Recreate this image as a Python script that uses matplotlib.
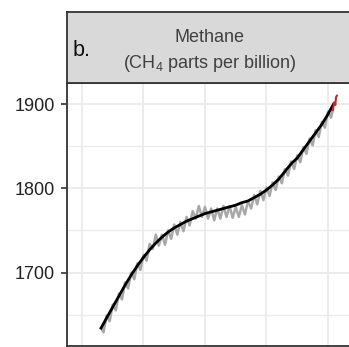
import matplotlib
matplotlib.use("Agg")
import matplotlib.pyplot as plt

plt.rcParams["font.family"] = ["Liberation Sans", "DejaVu Sans"]
plt.rcParams["mathtext.fontset"] = "custom"
plt.rcParams["mathtext.rm"] = "Liberation Sans"
plt.rcParams["mathtext.it"] = "Liberation Sans"
plt.rcParams["mathtext.bf"] = "Liberation Sans"

# Global methane record (semiannual samples, ppb) with the seasonal swing
obs_year = [
    1983.1, 1983.5, 1984.0, 1984.5, 1985.0, 1985.5, 1986.0, 1986.5, 1987.0, 1987.5,
    1988.0, 1988.5, 1989.0, 1989.5, 1990.0, 1990.5, 1991.0, 1991.5, 1992.0, 1992.5,
    1993.0, 1993.5, 1994.0, 1994.5, 1995.0, 1995.5, 1996.0, 1996.5, 1997.0, 1997.5,
    1998.0, 1998.5, 1999.0, 1999.5, 2000.0, 2000.5, 2001.0, 2001.5, 2002.0, 2002.5,
    2003.0, 2003.5, 2004.0, 2004.5, 2005.0, 2005.5, 2006.0, 2006.5, 2007.0, 2007.5,
    2008.0, 2008.5, 2009.0, 2009.5, 2010.0, 2010.5, 2011.0, 2011.5, 2012.0, 2012.5,
    2013.0, 2013.5, 2014.0, 2014.5, 2015.0, 2015.5, 2016.0, 2016.5, 2017.0, 2017.5,
    2018.0, 2018.5, 2019.0, 2019.5, 2020.0, 2020.5, 2020.8,
]
obs_ppb = [
    1634, 1629, 1649, 1642, 1662, 1655, 1675, 1668, 1688, 1681,
    1700, 1692, 1711, 1703, 1721, 1714, 1734, 1728, 1745, 1732,
    1745, 1733, 1750, 1740, 1757, 1745, 1760, 1749, 1766, 1756,
    1773, 1764, 1779, 1766, 1778, 1764, 1776, 1762, 1776, 1764,
    1779, 1766, 1779, 1765, 1778, 1766, 1780, 1769, 1785, 1776,
    1792, 1781, 1797, 1786, 1801, 1791, 1807, 1798, 1814, 1806,
    1823, 1815, 1832, 1823, 1839, 1831, 1849, 1841, 1859, 1851,
    1869, 1861, 1879, 1872, 1891, 1884, 1893,
]

# Most recent months, highlighted
recent_year = [2020.8, 2021.0, 2021.2, 2021.3, 2021.45]
recent_ppb = [1893, 1902, 1899, 1908, 1910]

# Smoothed long-term trend
trend_year = [
    1983.1, 1984, 1985, 1986, 1987, 1988, 1989, 1990, 1991, 1992,
    1993, 1994, 1995, 1996, 1997, 1998, 1999, 2000, 2001, 2002,
    2003, 2004, 2005, 2006, 2007, 2008, 2009, 2010, 2011, 2012,
    2013, 2014, 2015, 2016, 2017, 2018, 2019, 2020, 2020.9,
]
trend_ppb = [
    1634, 1646, 1659, 1672, 1685, 1697, 1708, 1718, 1727, 1735,
    1742, 1748, 1753, 1757, 1761, 1764, 1767, 1770, 1772, 1774,
    1776, 1778, 1780, 1783, 1785, 1789, 1793, 1798, 1804, 1811,
    1820, 1829, 1836, 1846, 1856, 1866, 1876, 1888, 1900,
]

y_ticks = [1700, 1800, 1900]
y_minor = [1650, 1750, 1850]
x_grid = [1980, 1990, 2000, 2010, 2020]

W, H = 349, 347
fig = plt.figure(figsize=(W / 100, H / 100), dpi=100)

def px_box(x0, y0, x1, y1):
    return [x0 / W, 1 - y1 / H, (x1 - x0) / W, (y1 - y0) / H]

ax = fig.add_axes(px_box(67, 83, 353, 346))
ax.set_xlim(1977.56, 2024.07)
ax.set_ylim(1612.7, 1925.1)

grid_col = "#EBEBEB"
ax.set_xticks(x_grid)
ax.set_yticks(y_ticks)
ax.set_yticks(y_minor, minor=True)
ax.grid(True, which="major", color=grid_col, lw=1.3)
ax.grid(True, which="minor", axis="y", color=grid_col, lw=1.0)
ax.set_axisbelow(True)
ax.tick_params(axis="x", length=0, labelbottom=False)
ax.tick_params(axis="y", which="major", length=4.5, width=1.2, color="#333333",
               pad=4, labelsize=13, labelcolor="#222222")
ax.tick_params(axis="y", which="minor", length=0)
for s in ax.spines.values():
    s.set_color("#333333")
    s.set_linewidth(1.3)

ax.plot(obs_year, obs_ppb, color="#A8A8A8", lw=1.8, zorder=2)
ax.plot(trend_year, trend_ppb, color="black", lw=2.0, zorder=3)
ax.plot(recent_year, recent_ppb, color="#C62828", lw=1.5, zorder=4)

# facet strip
strip = fig.add_axes(px_box(67, 12, 353, 83))
strip.set_xlim(0, 1)
strip.set_ylim(0, 1)
strip.set_xticks([])
strip.set_yticks([])
strip.set_facecolor("#D9D9D9")
for s in strip.spines.values():
    s.set_color("#333333")
    s.set_linewidth(1.3)

strip.text((210 - 67) / 286, 1 - (37 - 12) / 71, "Methane", ha="center",
           va="center", fontsize=13, color="#404040")
strip.text((210 - 67) / 286, 1 - (63 - 12) / 71, r"(CH$_4$ parts per billion)",
           ha="center", va="center", fontsize=13, color="#404040")
strip.text((73 - 67) / 286, 1 - (50 - 12) / 71, "b.", ha="left", va="center",
           fontsize=15.5, color="#111111")

fig.savefig("out.png", dpi=100)
